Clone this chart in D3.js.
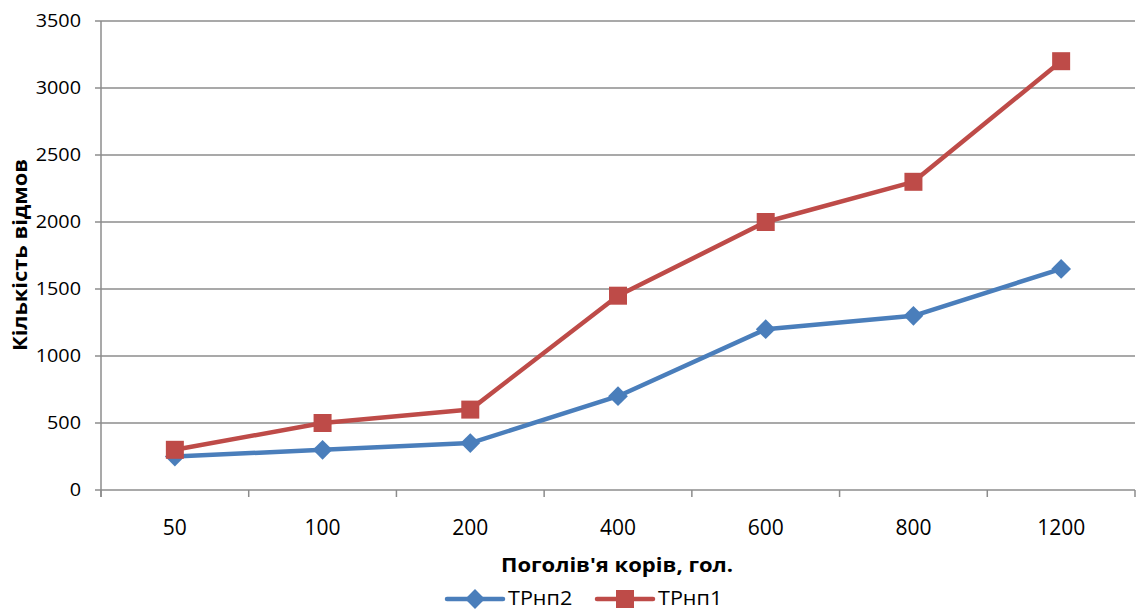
<!DOCTYPE html>
<html><head><meta charset="utf-8">
<script src="https://cdn.jsdelivr.net/npm/d3@7/dist/d3.min.js"></script>
<style>body{margin:0;background:#fff;} svg{display:block;font-family:"Open Sans","Noto Sans",sans-serif;}</style>
</head><body>
<svg id="c" width="1136" height="610"></svg>
<script>
const categories = ["50","100","200","400","600","800","1200"];
const seriesNames = ["ТРнп2","ТРнп1"];
const trnp2 = [250,300,350,700,1200,1300,1650];
const trnp1 = [300,500,600,1450,2000,2300,3200];
const yTicks = [0,500,1000,1500,2000,2500,3000,3500];
const colors = ["#4A7EBB","#BE4B48"];

const svg = d3.select("#c");
const L=101,R=1135,T=21,B=490;
const x = d3.scaleBand().domain(categories).range([L,R]);
const y = d3.scaleLinear().domain([0,3500]).range([B,T]);

svg.append("g").selectAll("line").data(yTicks).join("line")
  .attr("x1",L-6).attr("x2",R).attr("y1",d=>y(d)).attr("y2",d=>y(d))
  .attr("stroke","#8c8c8c").attr("stroke-width",1.5);
svg.append("line").attr("x1",L).attr("x2",L).attr("y1",T).attr("y2",B+7).attr("stroke","#8c8c8c").attr("stroke-width",1.5);
const bounds = categories.map(c=>x(c)).concat([R]);
svg.append("g").selectAll("line").data(bounds).join("line")
  .attr("x1",d=>d).attr("x2",d=>d).attr("y1",B).attr("y2",B+7)
  .attr("stroke","#8c8c8c").attr("stroke-width",1.5);
svg.append("g").selectAll("text").data(yTicks).join("text")
  .attr("transform",d=>`translate(81,${y(d)}) scale(1.1,1)`).attr("dy","0.36em").attr("text-anchor","end")
  .attr("font-size",18).attr("fill","#000").text(d=>d);
svg.append("g").selectAll("text").data(categories).join("text")
  .attr("x",d=>x(d)+x.bandwidth()/2).attr("y",535).attr("text-anchor","middle")
  .attr("font-size",21).attr("fill","#000").text(d=>d);
svg.append("text").attr("transform","translate(617,572) scale(1.16,1)").attr("text-anchor","middle")
  .attr("font-size",19).attr("font-weight","bold").text("Поголів'я корів, гол.");
svg.append("text").attr("transform","translate(27,255) rotate(-90) scale(1.15,1)").attr("text-anchor","middle")
  .attr("font-size",19).attr("font-weight","bold").text("Кількість відмов");

const cx = d=>x(d)+x.bandwidth()/2;
const line = d3.line().x((d,i)=>cx(categories[i])).y(d=>y(d));
const data=[trnp2,trnp1];
function drawSeries(k){
  const vals=data[k];
  svg.append("path").attr("d",line(vals)).attr("fill","none").attr("stroke",colors[k]).attr("stroke-width",4.5).attr("stroke-linejoin","round");
  if(k===0){
    svg.append("g").selectAll("path").data(vals).join("path")
      .attr("transform",(d,i)=>`translate(${cx(categories[i])},${y(d)}) rotate(45)`)
      .attr("d","M-7,-7H7V7H-7Z").attr("fill",colors[k]);
  } else {
    svg.append("g").selectAll("rect").data(vals).join("rect")
      .attr("x",(d,i)=>cx(categories[i])-9).attr("y",d=>y(d)-9).attr("width",18).attr("height",18)
      .attr("fill",colors[k]);
  }
}
drawSeries(0); drawSeries(1);
const leg=[{x:447,k:0},{x:597,k:1}];
leg.forEach(o=>{
  const g=svg.append("g");
  g.append("line").attr("x1",o.x).attr("x2",o.x+56).attr("y1",599).attr("y2",599).attr("stroke",colors[o.k]).attr("stroke-width",4.5).attr("stroke-linecap","round");
  if(o.k===0) g.append("path").attr("transform",`translate(${o.x+28},599) rotate(45)`).attr("d","M-7,-7H7V7H-7Z").attr("fill",colors[0]);
  else g.append("rect").attr("x",o.x+19).attr("y",590).attr("width",18).attr("height",18).attr("fill",colors[1]);
  g.append("text").attr("transform",`translate(${o.x+61},598) scale(1.08,1)`).attr("dy","0.36em").attr("font-size",20).text(seriesNames[o.k]);
});
</script>
</body></html>
